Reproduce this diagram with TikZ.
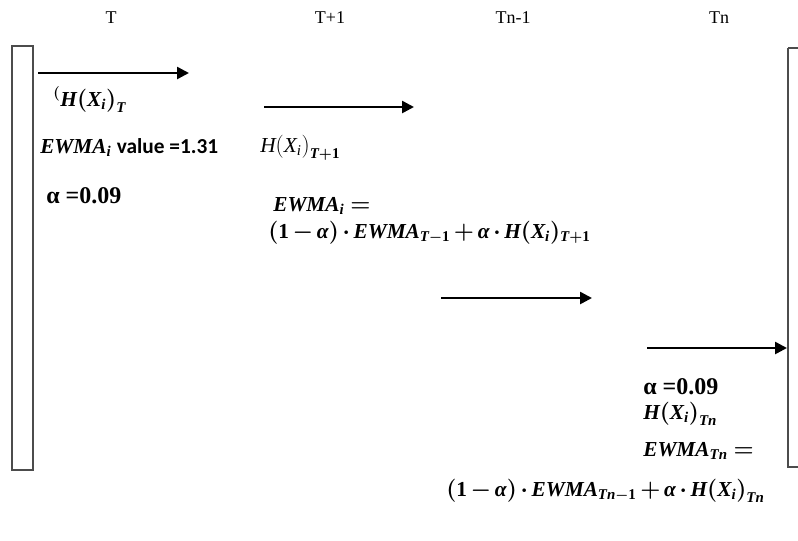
\documentclass[tikz,border=0pt]{standalone}
\usepackage{amsmath}
\usepackage{bm}
\usepackage{graphicx}
\usepackage{fontspec}
\setmainfont{Liberation Serif}
\newfontfamily\calibri{Carlito}
\usetikzlibrary{arrows.meta}
\newcommand{\V}[1]{\text{\bfseries\itshape #1}}
\newcommand{\Vn}[1]{\text{\mdseries\itshape #1}}
\newcommand{\N}[1]{\text{\bfseries #1}}
\newcommand{\Lsub}[1]{_{\raisebox{-2.5pt}{$\scriptstyle #1$}}}
\medmuskip=2.5mu plus 2mu minus 2mu
\thickmuskip=4mu plus 3mu minus 1mu
\begin{document}
\begin{tikzpicture}[x=0.75pt,y=-0.75pt,
  arr/.style={-{Triangle[length=9pt,width=9pt]}, line width=1.9pt},
  bar/.style={draw=black!70, line width=1.1pt},
  lbl/.style={inner sep=0pt, anchor=base, font=\fontsize{13.5}{15}\selectfont},
  mthn/.style={inner sep=0pt, anchor=base west, font=\fontsize{16}{19}\selectfont},
  mth/.style={mthn, font=\fontsize{16}{19}\selectfont\boldmath},
  alp/.style={inner sep=0pt, anchor=base west, font=\fontsize{18}{20}\selectfont\bfseries}]
\useasboundingbox (0,0) rectangle (798,540);
% bars
\draw[bar] (12,46) rectangle (33,470);
\draw[bar] (788,48) -- (788,467) -- (800,467);
\draw[bar] (788,48) -- (800,48);
% column labels
\node[lbl] (t0) at (111,23) {T};
\node[lbl] (t1) at (330,23) {T+1};
\node[lbl] (t2) at (513,23) {Tn-1};
\node[lbl] (t3) at (719,23) {Tn};
% arrows
\coordinate (a1s) at (38,73);  \coordinate (a1e) at (189,73);
\coordinate (a2s) at (264,107); \coordinate (a2e) at (414,107);
\coordinate (a3s) at (441,298); \coordinate (a3e) at (592,298);
\coordinate (a4s) at (647,348); \coordinate (a4e) at (787,348);
\draw[arr] (a1s) -- (a1e);
\draw[arr] (a2s) -- (a2e);
\draw[arr] (a3s) -- (a3e);
\draw[arr] (a4s) -- (a4e);
% column T
\node[mth] (hT) at (53,106) {$^{(}\V{H}(\V{X}_{\V{i}})\Lsub{\V{T}}$};
\node[mth] (ewT) at (40,153) {$\V{EWMA}_{\V{i}}$ {\calibri\bfseries\fontsize{16}{19}\selectfont value =1.31}};
\node[alp] (alT) at (46,203) {α =0.09};
% column T+1
\node[mthn] (hT1) at (260,152) {$\Vn{H}(\Vn{X}_{\Vn{i}})\Lsub{\V{T}\boldsymbol{+}\N{1}}$};
\node[mth] (ewT1) at (273,211) {$\V{EWMA}_{\V{i}}=$};
\node[mth] (ewT1b) at (268,238) {$(\N{1}-\V{α})\cdot\V{EWMA}_{\V{T}-\N{1}}+\V{α}\cdot\V{H}(\V{X}_{\V{i}})_{\V{T}+\N{1}}$};
% column Tn
\node[alp] (alTn) at (643,394) {α =0.09};
\node[mth] (hTn) at (643,419) {$\V{H}(\V{X}_{\V{i}})\Lsub{\V{Tn}}$};
\node[mth] (ewTn) at (643,456) {$\V{EWMA}_{\V{Tn}}=$};
\node[mth] (ewTnb) at (446,496) {$(\N{1}-\V{α})\cdot\V{EWMA}_{\V{Tn}-\N{1}}+\V{α}\cdot\V{H}(\V{X}_{\V{i}})\Lsub{\V{Tn}}$};
\end{tikzpicture}
\end{document}
